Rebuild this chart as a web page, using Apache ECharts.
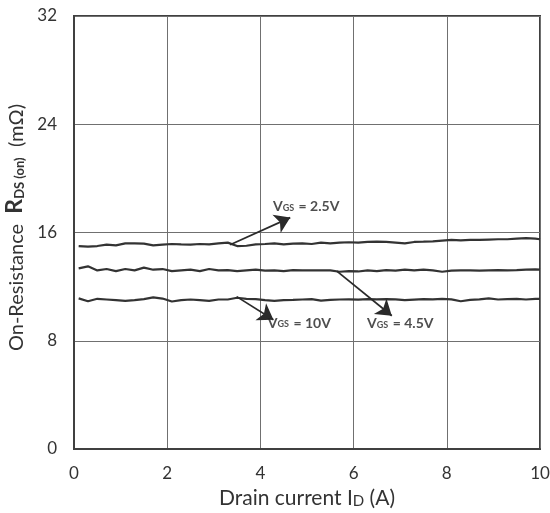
<!DOCTYPE html>
<html><head><meta charset="utf-8">
<script src="https://cdn.jsdelivr.net/npm/echarts@6/dist/echarts.min.js"></script>
<style>html,body{margin:0;padding:0;background:#fff}#c{width:550px;height:513px}</style>
</head><body><div id="c"></div>
<script>
const xs = [0.1,0.3,0.5,0.7,0.9,1.1,1.3,1.5,1.7,1.9,2.1,2.3,2.5,2.7,2.9,3.1,3.3,3.5,3.7,3.9,4.1,4.3,4.5,4.7,4.9,5.1,5.3,5.5,5.7,5.9,6.1,6.3,6.5,6.7,6.9,7.1,7.3,7.5,7.7,7.9,8.1,8.3,8.5,8.7,8.9,9.1,9.3,9.5,9.7,9.9,10];
const vgs25 = [15.0,14.95,15.0,15.1,15.05,15.2,15.2,15.18,15.05,15.1,15.15,15.12,15.1,15.15,15.12,15.2,15.25,15.0,15.02,15.12,15.15,15.2,15.12,15.18,15.2,15.15,15.25,15.2,15.25,15.28,15.25,15.3,15.32,15.3,15.25,15.2,15.3,15.32,15.35,15.4,15.45,15.42,15.45,15.45,15.48,15.5,15.5,15.55,15.58,15.55,15.5];
const vgs45 = [13.35,13.5,13.2,13.3,13.15,13.3,13.2,13.4,13.25,13.3,13.15,13.2,13.25,13.15,13.3,13.2,13.22,13.15,13.2,13.25,13.18,13.2,13.15,13.22,13.2,13.2,13.2,13.2,13.1,13.15,13.12,13.2,13.15,13.22,13.18,13.25,13.2,13.25,13.2,13.1,13.18,13.2,13.2,13.18,13.2,13.22,13.2,13.22,13.25,13.28,13.25];
const vgs10 = [11.13,10.92,11.1,11.05,11.0,10.95,11.0,11.08,11.2,11.12,10.9,11.0,11.05,11.0,10.95,11.05,11.05,11.18,11.1,11.08,11.0,10.94,11.0,11.02,11.05,11.08,10.96,11.02,11.05,11.06,11.04,11.08,11.06,11.08,11.06,11.0,11.04,11.08,11.06,11.1,11.06,10.92,11.02,11.06,11.13,11.05,11.08,11.1,11.05,11.1,11.1];
const xTicks = [0,2,4,6,8,10];
const yTicks = [0,8,16,24,32];
// annotations
const annLabels = ['2.5V','10V','4.5V'];
const annLabelPos = [[4.27,17.9],[4.16,9.31],[6.29,9.24]];
const annArrows = [[[3.35,15.1],[4.64,17.1]],[[3.49,11.26],[4.28,9.55]],[[5.64,13.15],[6.82,9.85]]];

const font = 'Lato, "Open Sans", sans-serif';
const pair = ys => xs.map((x,i)=>[x,ys[i]]);
const lineSeries = ys => ({type:'line', data:pair(ys), showSymbol:false, symbol:'none', smooth:false,
  lineStyle:{color:'#333', width:2.2}, z:3, silent:true});

const chart = echarts.init(document.getElementById('c'));
chart.setOption({
  animation:false,
  grid:{left:74, right:10, top:16, bottom:64, outerBoundsMode:'none', containLabel:false, show:true, borderColor:'#404040', borderWidth:2},
  xAxis:{type:'value', min:0, max:10, interval:2,
    axisLine:{show:true, lineStyle:{color:'#404040', width:2}}, axisTick:{show:false},
    axisLabel:{fontFamily:font, fontSize:17, color:'#333', margin:16, formatter:v=>xTicks.includes(v)?String(v):''},
    splitLine:{show:true, lineStyle:{color:'#707070', width:1}},
    name:'{a|Drain current I}{b|D}{a| (A)}', nameLocation:'middle', nameGap:39,
    nameTextStyle:{rich:{a:{fontFamily:font, fontSize:21, color:'#333', verticalAlign:'bottom'}, b:{fontFamily:font, fontSize:15, color:'#333', verticalAlign:'bottom'}}}
  },
  yAxis:{type:'value', min:0, max:32, interval:8,
    axisLine:{show:true, lineStyle:{color:'#404040', width:2}}, axisTick:{show:false},
    axisLabel:{fontFamily:font, fontSize:17, color:'#333', margin:17, formatter:v=>yTicks.includes(v)?String(v):''},
    splitLine:{show:true, lineStyle:{color:'#707070', width:1}},
    name:'{a|On-Resistance  }{r|R}{s|DS (on)}{a|  (mΩ)}', nameLocation:'middle', nameGap:37,
    nameTextStyle:{padding:[0,0,0,10], rich:{
      a:{fontFamily:font, fontSize:20, color:'#333', verticalAlign:'bottom'},
      r:{fontFamily:font, fontSize:23, fontWeight:'bold', color:'#333', verticalAlign:'bottom'},
      s:{fontFamily:font, fontSize:13, fontWeight:'bold', color:'#333', verticalAlign:'bottom'}}}
  },
  series:[
    lineSeries(vgs25), lineSeries(vgs45), lineSeries(vgs10),
    {type:'lines', coordinateSystem:'cartesian2d', polyline:false, silent:true, z:4,
      symbol:['none','arrow'], symbolSize:[0,15],
      lineStyle:{color:'#2a2a2a', width:1.7, opacity:1},
      data:annArrows.map(c=>({coords:c}))},
    {type:'scatter', symbolSize:0, silent:true, z:5,
      data:annLabelPos.map((p,i)=>({value:p, name:annLabels[i]})),
      label:{show:true, position:'right', distance:0,
        formatter:p=>'{v|V}{s|GS}{t| = '+p.name+'}',
        rich:{v:{fontFamily:font, fontSize:14, fontWeight:'bold', color:'#222', verticalAlign:'bottom'},
              s:{fontFamily:font, fontSize:9, fontWeight:'bold', color:'#222', verticalAlign:'bottom', padding:[0,1,1,0]},
              t:{fontFamily:font, fontSize:14, fontWeight:'bold', color:'#222', verticalAlign:'bottom'}}}}
  ]
});
</script></body></html>
